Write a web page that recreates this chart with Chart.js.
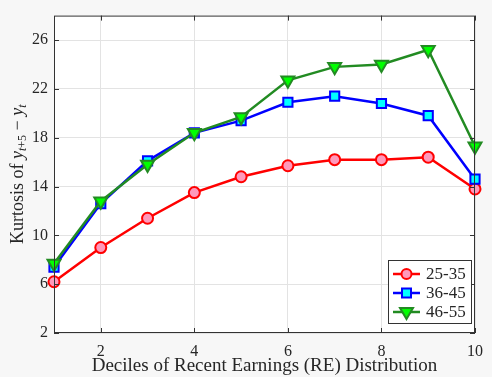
<!DOCTYPE html>
<html>
<head>
<meta charset="utf-8">
<script src="https://cdn.jsdelivr.net/npm/chart.js"></script>
<style>
  body { margin: 0; background: #f7f7f7; }
  #wrap { width: 492px; height: 377px; position: relative; }
</style>
</head>
<body>
<div id="wrap"><canvas id="kurtosisChart"></canvas></div>
<script>
//--------------------------------------
// kurtosis by decile of recent earnings
//--------------------------------------

var deciles    = [1, 2, 3, 4, 5, 6, 7, 8, 9, 10];
var ageLabels  = ["25-35", "36-45", "46-55"];
var kurt_25_35 = [6.2, 9.0, 11.4, 13.5, 14.8, 15.7, 16.2, 16.2, 16.4, 13.8];
var kurt_36_45 = [7.4, 12.6, 16.1, 18.4, 19.4, 20.9, 21.4, 20.8, 19.8, 14.6];
var kurt_46_55 = [7.7, 12.8, 15.8, 18.4, 19.7, 22.7, 23.8, 24.0, 25.2, 17.3];
var xTicks     = [2, 4, 6, 8, 10];
var yTicks     = [2, 6, 10, 14, 18, 22, 26];

var xTitle     = "Deciles of Recent Earnings (RE) Distribution";
var serif      = "'Liberation Serif', 'DejaVu Serif', serif";
var textColor  = "#262626";

function toPoints(values) {
    return values.map(function(v, i) { return {x: deciles[i], y: v}; });
    }

// style of each series (line colour, marker)
var seriesStyle = [
    {line: "#ff0000", fill: "#ff99bb", marker: "circle",   radius: 5.5, rot: 0},
    {line: "#0000ff", fill: "#00ffff", marker: "rect",     radius: 6.5, rot: 0},
    {line: "#228b22", fill: "#00ff00", marker: "triangle", radius: 7.5, rot: 180}
    ];
var seriesData = [kurt_25_35, kurt_36_45, kurt_46_55];

var data_sets = [];
for (var i = 0; i < seriesData.length; i++) {
    var st = seriesStyle[i];
    data_sets.push({
        label : ageLabels[i],
        data : toPoints(seriesData[i]),
        borderColor : st.line,
        backgroundColor : st.fill,
        borderWidth : 2.5,
        pointStyle : st.marker,
        pointRotation : st.rot,
        pointRadius : st.radius,
        pointBorderWidth : 2,
        pointBorderColor : st.line,
        pointBackgroundColor : st.fill,
        tension : 0,
        clip : false,
        order : seriesData.length - i
        });
    }

// small marker drawing for the legend
function drawMarker(ctx, style, x, y) {
    ctx.save();
    ctx.fillStyle   = style.fill;
    ctx.strokeStyle = style.line;
    ctx.lineWidth   = 2;
    ctx.beginPath();
    if (style.marker == "circle") {
        ctx.arc(x, y, 5, 0, Math.PI * 2);
        }
    else if (style.marker == "rect") {
        ctx.rect(x - 4.5, y - 4.5, 9, 9);
        }
    else {
        ctx.moveTo(x - 6.5, y - 4);
        ctx.lineTo(x + 6.5, y - 4);
        ctx.lineTo(x, y + 7);
        ctx.closePath();
        }
    ctx.fill();
    ctx.stroke();
    ctx.restore();
    }

var framePlugin = {
    id : "frame",
    beforeDraw : function(chart) {
        var ctx = chart.ctx, a = chart.chartArea;
        ctx.save();
        ctx.fillStyle = "#ffffff";
        ctx.fillRect(a.left, a.top, a.right - a.left, a.bottom - a.top);
        ctx.restore();
        },
    afterDatasetsDraw : function(chart) {
        var ctx = chart.ctx, a = chart.chartArea;
        var xs = chart.scales.x, ys = chart.scales.y;
        ctx.save();
        // box round the plot
        ctx.strokeStyle = "#333333";
        ctx.lineWidth = 1;
        ctx.strokeRect(a.left + 0.5, a.top + 0.5, a.right - a.left - 1, a.bottom - a.top - 1);
        // inward ticks on all four sides
        ctx.beginPath();
        xTicks.forEach(function(v) {
            var px = Math.round(xs.getPixelForValue(v)) + 0.5;
            ctx.moveTo(px, a.bottom); ctx.lineTo(px, a.bottom - 5);
            ctx.moveTo(px, a.top);    ctx.lineTo(px, a.top + 5);
            });
        yTicks.forEach(function(v) {
            var py = Math.round(ys.getPixelForValue(v)) + 0.5;
            ctx.moveTo(a.left, py);  ctx.lineTo(a.left + 5, py);
            ctx.moveTo(a.right, py); ctx.lineTo(a.right - 5, py);
            });
        ctx.stroke();

        // legend box, bottom right
        var lx = 388, ly = 260, lw = 83, lh = 63;
        ctx.fillStyle = "#ffffff";
        ctx.fillRect(lx, ly, lw, lh);
        ctx.strokeStyle = "#333333";
        ctx.strokeRect(lx + 0.5, ly + 0.5, lw, lh);
        chart.data.datasets.forEach(function(ds, i) {
            var st = seriesStyle[i];
            var ey = 274 + i * 19;
            ctx.strokeStyle = st.line;
            ctx.lineWidth = 2.5;
            ctx.beginPath();
            ctx.moveTo(393, ey); ctx.lineTo(420, ey);
            ctx.stroke();
            drawMarker(ctx, st, 406.5, ey);
            ctx.fillStyle = textColor;
            ctx.font = "17px " + serif;
            ctx.textAlign = "left";
            ctx.textBaseline = "middle";
            ctx.fillText(ds.label, 426, ey + 1);
            });
        ctx.restore();
        },
    afterDraw : function(chart) {
        // y axis title with math parts: Kurtosis of y_{t+5} - y_t
        var ctx = chart.ctx, a = chart.chartArea;
        var big = "18px " + serif, bigI = "italic 18px " + serif;
        var sub = "12px " + serif,  subI = "italic 12px " + serif;
        var parts = [
            {t: "Kurtosis of ", f: big,  dy: 0},
            {t: "y",            f: bigI, dy: 0},
            {t: "t",            f: subI, dy: 3},
            {t: "+5",           f: sub,  dy: 3},
            {t: " \u2212 ",     f: big,  dy: 0},
            {t: "y",            f: bigI, dy: 0},
            {t: "t",            f: subI, dy: 3}
            ];
        ctx.save();
        var total = 0;
        parts.forEach(function(p) { ctx.font = p.f; p.w = ctx.measureText(p.t).width; total += p.w; });
        ctx.translate(18, (a.top + a.bottom) / 2);
        ctx.rotate(-Math.PI / 2);
        ctx.fillStyle = textColor;
        ctx.textBaseline = "alphabetic";
        ctx.textAlign = "left";
        var px = -total / 2;
        parts.forEach(function(p) {
            ctx.font = p.f;
            ctx.fillText(p.t, px, 5 + p.dy);
            px += p.w;
            });
        ctx.restore();
        }
    };

var chart = new Chart(document.getElementById("kurtosisChart"), {
    type : "line",
    data : { datasets : data_sets },
    plugins : [framePlugin],
    options : {
        responsive : true,
        maintainAspectRatio : false,
        animation : false,
        layout : { padding : { top: 7, right: 10, left: 0, bottom: 0 } },
        plugins : {
            legend : { display: false },
            tooltip : { enabled: false }
            },
        scales : {
            x : {
                type : "linear",
                min : 1,
                max : 10,
                afterBuildTicks : function(scale) { scale.ticks = xTicks.map(function(v) { return {value: v}; }); },
                afterFit : function(scale) { scale.height = 44; },
                grid : { color: "#e3e3e3", lineWidth: 1, drawTicks: false },
                border : { display: false },
                ticks : { color: textColor, font: { family: serif, size: 16 }, padding: 9, maxRotation: 0 },
                title : { display: true, text: xTitle, color: textColor, font: { family: serif, size: 19 }, padding: { top: 0, bottom: 0 } }
                },
            y : {
                type : "linear",
                min : 2,
                max : 28,
                afterBuildTicks : function(scale) { scale.ticks = yTicks.map(function(v) { return {value: v}; }); },
                afterFit : function(scale) { scale.width = 54; },
                grid : { color: "#e3e3e3", lineWidth: 1, drawTicks: false },
                border : { display: false },
                ticks : { color: textColor, font: { family: serif, size: 16 }, padding: 6 }
                }
            }
        }
    });
</script>
</body>
</html>
